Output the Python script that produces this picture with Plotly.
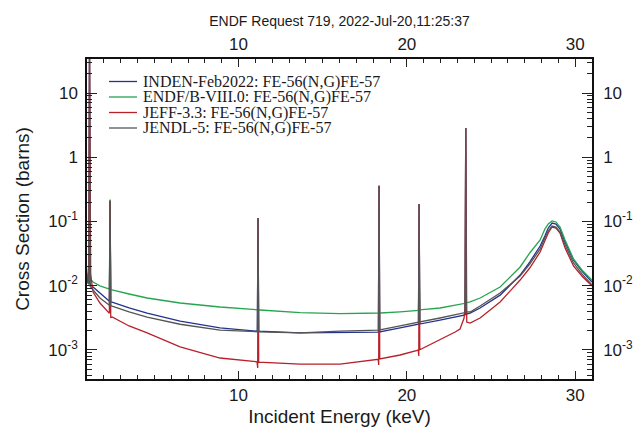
import plotly.graph_objects as go

# ---------------- data ----------------
series_names = [
    "INDEN-Feb2022: FE-56(N,G)FE-57",
    "ENDF/B-VIII.0: FE-56(N,G)FE-57",
    "JEFF-3.3: FE-56(N,G)FE-57",
    "JENDL-5: FE-56(N,G)FE-57",
]
series_colors = ["#24338f", "#26a54f", "#b8202a", "#555555"]

e_inden = [1.0, 1.11, 1.15, 1.19, 1.36, 1.77, 2.33, 2.37, 2.41, 2.49, 3.5, 4.57, 6.53, 8.9,
           11.12, 11.16, 11.2, 13.66, 16.03, 18.31, 18.35, 18.39, 19.6, 20.69, 20.73, 20.77,
           21.97, 22.87, 23.46, 23.5, 23.54, 23.76, 24.35, 25.54, 26.73, 27.3, 27.92, 28.2,
           28.4, 28.63, 28.86, 29.1, 29.4, 29.9, 30.4, 31.0]
s_inden = [0.0122, 0.011, 50, 0.0105, 0.0095, 0.0077, 0.0057, 0.21, 0.0056, 0.00555, 0.0045,
           0.00374, 0.0028, 0.0022, 0.00195, 0.113, 0.00195, 0.00183, 0.00186, 0.00189, 0.36,
           0.0019, 0.0022, 0.0025, 0.187, 0.00252, 0.00291, 0.00324, 0.0035, 2.85, 0.0036,
           0.00374, 0.00448, 0.0071, 0.0146, 0.0233, 0.0414, 0.0592, 0.0789, 0.0944, 0.0911,
           0.0761, 0.0478, 0.0251, 0.0169, 0.0114]

e_endf = [1.0, 1.06, 1.12, 1.18, 1.25, 1.36, 1.77, 2.33, 2.37, 2.41, 2.49, 3.5, 4.57, 6.53, 8.9,
          11.28, 13.66, 16.03, 18.41, 19.6, 20.69, 20.73, 20.77, 21.97, 22.87, 23.46, 23.5,
          23.54, 23.76, 24.35, 25.54, 26.73, 27.3, 27.92, 28.2, 28.4, 28.63, 28.86, 29.1, 29.4,
          29.9, 30.4, 31.0]
s_endf = [0.0118, 0.0175, 0.0233, 0.0175, 0.0122, 0.0114, 0.0099, 0.0088, 0.22, 0.0087,
          0.00854, 0.0074, 0.00641, 0.00536, 0.00464, 0.00417, 0.0038, 0.00367, 0.00374,
          0.0039, 0.0041, 0.0164, 0.0042, 0.00448, 0.00499, 0.0053, 0.018, 0.0054, 0.00556,
          0.00641, 0.0095, 0.0195, 0.0322, 0.0513, 0.0761, 0.0911, 0.1015, 0.098, 0.0818,
          0.0513, 0.026, 0.0175, 0.0122]

e_jeff = [1.0, 1.08, 1.11, 1.15, 1.19, 1.22, 1.36, 1.77, 2.33, 2.37, 2.41, 2.49, 3.5, 4.57,
          6.53, 8.9, 11.1, 11.14, 11.16, 11.2, 13.66, 16.03, 18.3, 18.33, 18.35, 18.39, 19.6,
          20.68, 20.71, 20.73, 20.77, 21.97, 22.87, 23.16, 23.4, 23.46, 23.5, 23.56, 23.76,
          24.35, 25.54, 26.73, 27.3, 27.92, 28.2, 28.4, 28.63, 28.86, 29.1, 29.4, 29.9, 30.4,
          31.0]
s_jeff = [0.0114, 0.0163, 0.0165, 50, 0.015, 0.0146, 0.00795, 0.00536, 0.0037, 0.21, 0.0032,
          0.00324, 0.00235, 0.00183, 0.00111, 0.000745, 0.00065, 0.00052, 0.113, 0.00064,
          0.0006, 0.0006, 0.00071, 0.00058, 0.36, 0.00072, 0.00083, 0.00099, 0.0008, 0.187,
          0.001, 0.00142, 0.00189, 0.00211, 0.00313, 0.00464, 2.85, 0.00271, 0.00261, 0.00313,
          0.00555, 0.0122, 0.0188, 0.0334, 0.0513, 0.066, 0.0818, 0.0789, 0.066, 0.0385,
          0.0202, 0.0141, 0.00986]

e_jendl = [1.0, 1.11, 1.15, 1.19, 1.36, 1.77, 2.33, 2.37, 2.41, 2.49, 3.5, 4.57, 6.53, 8.9,
           11.12, 11.16, 11.2, 13.66, 16.03, 18.31, 18.35, 18.39, 19.6, 20.69, 20.73, 20.77,
           21.97, 22.87, 23.46, 23.5, 23.54, 23.76, 24.35, 25.54, 26.73, 27.3, 27.92, 28.2,
           28.4, 28.63, 28.86, 29.1, 29.4, 29.9, 30.4, 31.0]
s_jendl = [0.0114, 0.0105, 50, 0.0098, 0.00854, 0.00641, 0.00495, 0.21, 0.0049, 0.0048,
           0.0039, 0.00324, 0.0025, 0.00203, 0.00191, 0.113, 0.0019, 0.00183, 0.00196,
           0.00203, 0.36, 0.00204, 0.00235, 0.0027, 0.187, 0.00272, 0.00313, 0.00348, 0.0038,
           2.85, 0.0039, 0.00388, 0.0048, 0.00767, 0.0141, 0.0217, 0.0372, 0.055, 0.0709,
           0.0848, 0.0818, 0.0684, 0.0429, 0.0225, 0.0152, 0.0102]

x_tick_vals = [10, 20, 30]
x_tick_text = ["10", "20", "30"]
y_tick_vals = [1e-3, 1e-2, 1e-1, 1, 10]
y_tick_text = ["10<sup>-3</sup>", "10<sup>-2</sup>", "10<sup>-1</sup>", "1", "10"]

title_text = "ENDF Request 719, 2022-Jul-20,11:25:37"
x_title = "Incident Energy (keV)"
y_title = "Cross Section (barns)"

# ---------------- figure ----------------
energies = [e_inden, e_endf, e_jeff, e_jendl]
sigmas = [s_inden, s_endf, s_jeff, s_jendl]

fig = go.Figure()
for name, col, ex, sy in zip(series_names, series_colors, energies, sigmas):
    fig.add_trace(go.Scatter(x=ex, y=sy, mode="lines", name=name,
                             line=dict(color=col, width=1.3), showlegend=False))

# invisible trace to activate mirrored top/right axes
fig.add_trace(go.Scatter(x=e_jendl, y=s_jendl, xaxis="x2", yaxis="y2", mode="lines",
                         line=dict(width=0), opacity=0, hoverinfo="skip", showlegend=False))

x_range = [1, 31]
y_range = [-3.4548, 1.5296]
y_minor = [m * 10.0 ** k for k in range(-4, 2) for m in range(2, 10)]
tick_font = dict(family="Liberation Sans, Arial, sans-serif", size=17, color="#1a1a1a")
ttl_font = dict(family="Liberation Sans, Arial, sans-serif", size=19, color="#1a1a1a")

xcommon = dict(range=x_range, tickmode="array", tickvals=x_tick_vals, ticktext=x_tick_text,
               ticks="inside", ticklen=8, tickwidth=1, tickcolor="#222",
               minor=dict(dtick=1, tick0=0, ticks="inside", ticklen=4, tickcolor="#222"),
               showline=True, linecolor="#111", linewidth=1.5, showgrid=False,
               zeroline=False, tickfont=tick_font, automargin=False)
ycommon = dict(type="log", range=y_range, tickmode="array", tickvals=y_tick_vals,
               ticktext=y_tick_text, ticks="inside", ticklen=10, tickwidth=1, tickcolor="#222",
               minor=dict(tickmode="array", tickvals=y_minor, ticks="inside", ticklen=5,
                          tickcolor="#222"),
               showline=True, linecolor="#111", linewidth=1.5, showgrid=False,
               zeroline=False, tickfont=tick_font, automargin=False)

fig.update_layout(
    width=636, height=428,
    margin=dict(l=87, r=44, t=59, b=49, autoexpand=False),
    paper_bgcolor="white", plot_bgcolor="white",
    title=dict(text=title_text, x=(87 + 592) / 2 / 636, xanchor="center", y=1 - 21 / 428,
               yanchor="middle", font=dict(family="Liberation Sans, Arial, sans-serif",
                                           size=14, color="#1a1a1a")),
    xaxis=dict(**xcommon, side="bottom", title=dict(text=x_title, standoff=6, font=ttl_font)),
    xaxis2=dict(**xcommon, side="top", overlaying="x", ticklabelstandoff=0),
    yaxis=dict(**ycommon, side="left", ticklabelstandoff=4,
               title=dict(text=y_title, standoff=14, font=ttl_font)),
    yaxis2=dict(**ycommon, side="right", overlaying="y", ticklabelstandoff=6),
    showlegend=False,
)

# legend drawn as text + line samples (tight IDL-style spacing)
leg_x0, leg_x1, leg_tx = (109 - 87) / 505, (137 - 87) / 505, (141 - 87) / 505
leg_top, leg_step = 81.5, 15.5
for i, (name, col) in enumerate(zip(series_names, series_colors)):
    yy = 1 - (leg_top + i * leg_step - 59) / 320
    fig.add_shape(type="line", xref="paper", yref="paper", x0=leg_x0, x1=leg_x1, y0=yy, y1=yy,
                  line=dict(color=col, width=1.3))
    fig.add_annotation(xref="paper", yref="paper", x=leg_tx, y=yy, text=name,
                       showarrow=False, xanchor="left", yanchor="middle",
                       font=dict(family="Liberation Serif, Times New Roman, serif", size=16,
                                 color="#1a1a1a"))

fig.write_html("out.html", config={"displayModeBar": False},
               post_script="document.body.style.margin='0';document.body.style.overflow='hidden';")
